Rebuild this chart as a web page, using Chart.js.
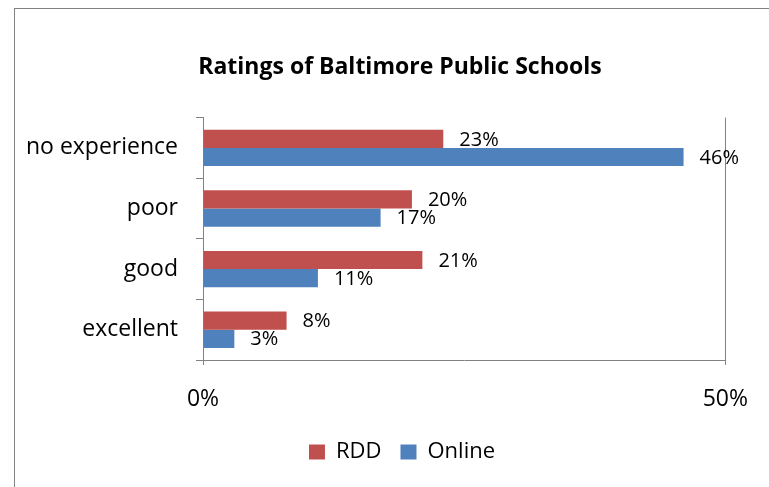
<!DOCTYPE html>
<html>
<head>
<meta charset="utf-8">
<script src="https://cdn.jsdelivr.net/npm/chart.js@4"></script>
<style>
  html, body { margin: 0; padding: 0; background: #fff; }
  #wrap { width: 769px; height: 487px; }
</style>
</head>
<body>
<div id="wrap"><canvas id="myChart" width="769" height="487"></canvas></div>
<script>
// Ratings data (share of respondents)
const categories = ["no experience", "poor", "good", "excellent"];
const rddValues = [0.23, 0.20, 0.21, 0.08];
const onlineValues = [0.46, 0.17, 0.11, 0.03];
const axisTicks = [0, 0.5];

const FONT = "'Open Sans', sans-serif";
const GRID = "#828282";

const ctx = document.getElementById("myChart");

new Chart(ctx, {
  type: "bar",
  data: {
    labels: categories,
    datasets: [
      {
        label: "RDD",
        data: rddValues,
        backgroundColor: "#C0504D",
        borderWidth: 0,
      },
      {
        label: "Online",
        data: onlineValues,
        backgroundColor: "#4F81BD",
        borderWidth: 0,
      },
    ],
  },
  options: {
    responsive: false,
    animation: false,
    indexAxis: "y",
    categoryPercentage: 0.6,
    barPercentage: 1.0,
    layout: {
      padding: { top: 0, left: 20, right: 43, bottom: 14 },
    },
    scales: {
      x: {
        min: 0,
        max: 0.5,
        afterBuildTicks(scale) {
          scale.ticks = axisTicks.map((v) => ({ value: v }));
        },
        afterFit(scale) {
          scale.height = 62;
        },
        ticks: {
          padding: 21,
          color: "#000",
          font: { family: FONT, size: 23 },
          callback: (v) => Math.round(v * 100) + "%",
        },
        grid: {
          color: GRID,
          lineWidth: 1,
          tickLength: 5,
        },
        border: { color: GRID, width: 1 },
      },
      y: {
        afterFit(scale) {
          scale.width = 183;
        },
        ticks: {
          padding: 18,
          color: "#000",
          font: { family: FONT, size: 23 },
        },
        grid: {
          offset: true,
          drawOnChartArea: false,
          color: GRID,
          tickLength: 7,
        },
        border: { color: GRID, width: 1 },
      },
    },
    plugins: {
      title: {
        display: true,
        text: "Ratings of Baltimore Public Schools",
        color: "#000",
        font: { family: FONT, size: 23, weight: "bold" },
        padding: { top: 54, bottom: 36 },
      },
      legend: {
        position: "bottom",
        labels: {
          color: "#000",
          font: { family: FONT, size: 22 },
          boxWidth: 16,
          boxHeight: 15,
          padding: 19,
        },
      },
      tooltip: { enabled: false },
    },
  },
  plugins: [
    {
      id: "frame",
      beforeDraw(chart) {
        const { ctx } = chart;
        ctx.save();
        ctx.fillStyle = "#fff";
        ctx.fillRect(0, 0, chart.width, chart.height);
        ctx.strokeStyle = GRID;
        ctx.lineWidth = 1;
        ctx.strokeRect(14.5, 8.5, 900, 600);
        ctx.restore();
      },
    },
    {
      // title and legend sit centred over the plot area rather than the canvas
      id: "shift_boxes",
      afterLayout(chart) {
        const t = chart.titleBlock;
        if (t) { t.left += 27; t.right += 27; }
        const lg = chart.legend;
        if (lg) { lg.left += 29; lg.right += 29; }
      },
    },
    {
      id: "value_labels",
      afterDatasetsDraw(chart) {
        const { ctx } = chart;
        ctx.save();
        ctx.font = "20px " + FONT;
        ctx.fillStyle = "#000";
        ctx.textAlign = "left";
        ctx.textBaseline = "middle";
        chart.data.datasets.forEach((ds, di) => {
          const meta = chart.getDatasetMeta(di);
          meta.data.forEach((bar, i) => {
            const label = Math.round(ds.data[i] * 100) + "%";
            ctx.fillText(label, bar.x + 16, bar.y + 1);
          });
        });
        ctx.restore();
      },
    },
  ],
});
</script>
</body>
</html>
